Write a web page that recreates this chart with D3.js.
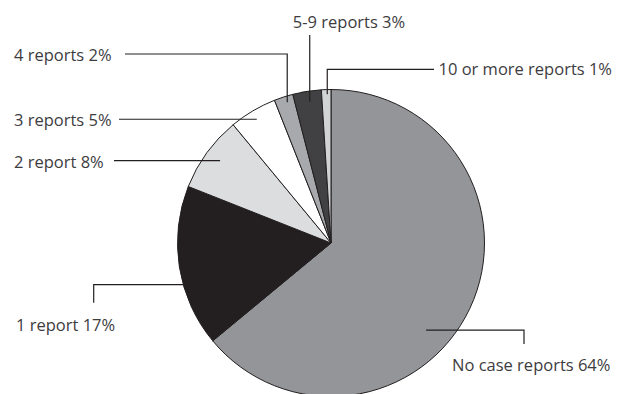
<!DOCTYPE html>
<html>
<head>
<meta charset="utf-8">
<script src="https://cdn.jsdelivr.net/npm/d3@7"></script>
<style>
  html, body { margin: 0; padding: 0; background: #ffffff; }
  svg { display: block; }
  text { font-family: "Open Sans", "Noto Sans", sans-serif; font-size: 16.5px; fill: #3d3c3e; }
</style>
</head>
<body>
<svg id="chart" width="617" height="394"></svg>
<script>
// Number of case reports per reporter, share of respondents (%)
const categories = ["No case reports", "1 report", "2 report", "3 reports", "4 reports", "5-9 reports", "10 or more reports"];
const shares = [64, 17, 8, 5, 2, 3, 1];

// Slice fills, same order as categories
const fills = ["#939598", "#231f20", "#dcdddf", "#ffffff", "#a7a9ac", "#414042", "#d1d3d4"];

// Pie geometry
const cx = 331, cy = 243, radius = 153.5;

// Callout layout: where the leader leaves its slice (fraction across the slice,
// fraction of the radius), the elbow moves that follow, and where the text sits.
const callouts = [
  { frac: 0.575, rf: 0.84, moves: [["H", 524], ["V", 344]], tx: 452, ty: 370.5, anchor: "start" },
  { frac: 0.39,  rf: 1.0,  moves: [["H", 93.7], ["V", 302.7]], tx: 16, ty: 330.5, anchor: "start" },
  { frac: 0.52,  rf: 0.90, moves: [["H", 114]], tx: 14, ty: 167.5, anchor: "start" },
  { frac: 0.48,  rf: 0.94, moves: [["H", 119]], tx: 14, ty: 126, anchor: "start" },
  { frac: 0.6,   rf: 0.96, moves: [["V", 54], ["H", 125]], tx: 14, ty: 60.5, anchor: "start" },
  { frac: 0.54,  rf: 0.93, moves: [["V", 35]], tx: 349, ty: 28, anchor: "middle" },
  { frac: 0.6,   rf: 0.97, moves: [["V", 69.3], ["H", 434]], tx: 438.5, ty: 74.5, anchor: "start" }
];

const svg = d3.select("#chart");

const pie = d3.pie().sort(null).value(d => d)(shares);
const arc = d3.arc().innerRadius(0).outerRadius(radius);

const g = svg.append("g").attr("transform", `translate(${cx},${cy})`);

g.selectAll("path.slice")
  .data(pie)
  .join("path")
  .attr("class", "slice")
  .attr("d", arc)
  .attr("fill", (d, i) => fills[i])
  .attr("stroke", "#231f20")
  .attr("stroke-width", 1)
  .attr("stroke-linejoin", "round");

// Leader lines
function polar(angle, r) {
  return [cx + r * Math.sin(angle), cy - r * Math.cos(angle)];
}

pie.forEach((d, i) => {
  const c = callouts[i];
  const a = d.startAngle + c.frac * (d.endAngle - d.startAngle);
  let [x, y] = polar(a, c.rf * radius);
  const pts = [[x, y]];
  c.moves.forEach(([k, v]) => {
    if (k === "H") x = v; else y = v;
    pts.push([x, y]);
  });
  svg.append("path")
    .attr("d", d3.line()(pts))
    .attr("fill", "none")
    .attr("stroke", "#231f20")
    .attr("stroke-width", 1.2);

  svg.append("text")
    .attr("x", c.tx)
    .attr("y", c.ty)
    .attr("text-anchor", c.anchor)
    .text(`${categories[i]} ${shares[i]}%`);
});
</script>
</body>
</html>
